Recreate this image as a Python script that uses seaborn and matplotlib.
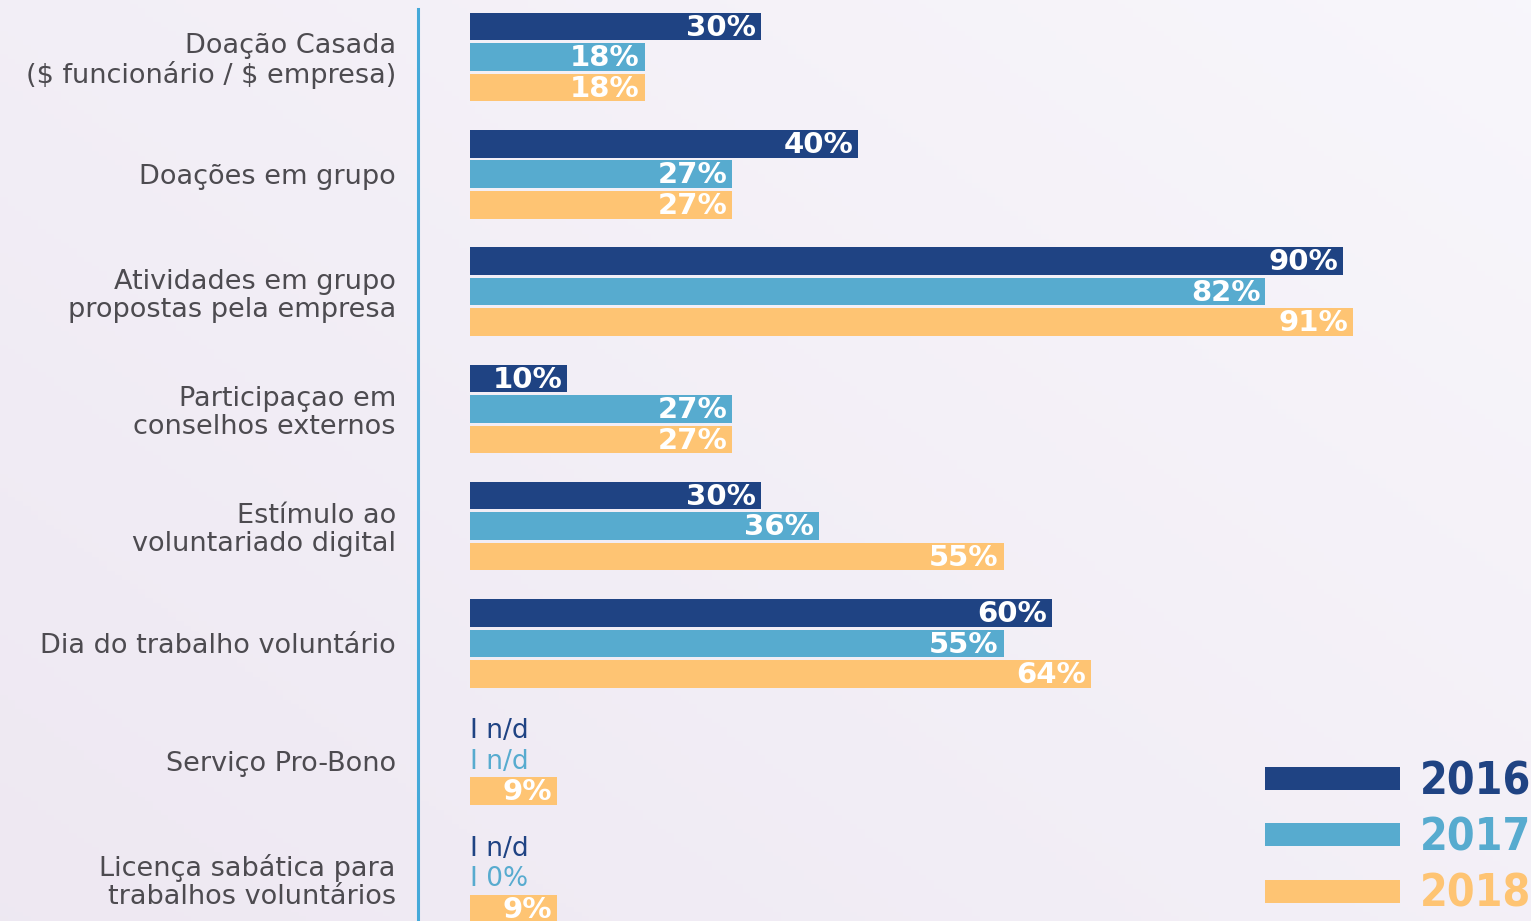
import numpy as np
import pandas as pd
import matplotlib
matplotlib.use("Agg")
import matplotlib.pyplot as plt
import seaborn as sns

categories = [
    "Doação Casada\n(\\$ funcionário / \\$ empresa)",
    "Doações em grupo",
    "Atividades em grupo\npropostas pela empresa",
    "Participaçao em\nconselhos externos",
    "Estímulo ao\nvoluntariado digital",
    "Dia do trabalho voluntário",
    "Serviço Pro-Bono",
    "Licença sabática para\ntrabalhos voluntários",
]
years = ["2016", "2017", "2018"]
v2016 = [30, 40, 90, 10, 30, 60, np.nan, np.nan]
v2017 = [18, 27, 82, 27, 36, 55, np.nan, 0]
v2018 = [18, 27, 91, 27, 55, 64, 9, 9]
colors = ["#1f4383", "#57abcf", "#fec473"]

rows = []
for yr, vals in zip(years, [v2016, v2017, v2018]):
    for c, v in zip(categories, vals):
        rows.append({"cat": c, "year": yr, "val": v})
df = pd.DataFrame(rows)

sns.set_theme(style="white")
plt.rcParams["font.family"] = ["DejaVu Sans"]

fig = plt.figure(figsize=(15.31, 9.21), dpi=100)
# background gradient
bg = fig.add_axes([0, 0, 1, 1], zorder=-10)
gx, gy = np.meshgrid(np.linspace(0, 1, 200), np.linspace(0, 1, 200))
t = np.clip(0.55 * gx + 0.45 * (1 - gy), 0, 1)
c0 = np.array([0.933, 0.910, 0.949])
c1 = np.array([0.972, 0.965, 0.985])
img = c0[None, None, :] * (1 - t[..., None]) + c1[None, None, :] * t[..., None]
bg.imshow(img, aspect="auto", extent=[0, 1, 0, 1], origin="upper")
bg.axis("off")

ax = fig.add_axes([418 / 1531, 0, 1 - 418 / 1531, 1])
ax.patch.set_alpha(0)
sns.barplot(data=df, y="cat", x="val", hue="year", palette=colors,
            orient="h", width=0.78, ax=ax, saturation=1, legend=True,
            edgecolor="none")

px = 9.7  # pixels per percent
ax.set_xlim(-52 / px, (1531 - 470) / px)
spacing = (878 - 57) / 7
ax.set_ylim(7 + (921 - 878) / spacing, -57 / spacing)

# shrink bars slightly to create gaps
for p in ax.patches:
    h = p.get_height()
    if h > 0 and h < 1:
        p.set_y(p.get_y() + 0.012)
        p.set_height(h - 0.024)

n = len(years)
bw = 0.78 / n
for i, (yr, vals) in enumerate(zip(years, [v2016, v2017, v2018])):
    for j, v in enumerate(vals):
        yc = j - 0.39 + bw * (i + 0.5)
        if np.isnan(v) or v == 0:
            lab = "n/d" if np.isnan(v) else "0%"
            ax.text(0, yc + 0.01, "I " + lab, color=colors[i], fontsize=19,
                    va="center", ha="left", fontweight="medium")
        else:
            ax.text(v - 0.5, yc + 0.01, f"{v:.0f}%", color="white", fontsize=21,
                    va="center", ha="right", fontweight="semibold")

ax.set_xlabel("")
ax.set_ylabel("")
ax.set_xticks([])
ax.tick_params(axis="y", length=0, pad=16, labelsize=19.5, labelcolor="#4d4b50")
for lbl in ax.get_yticklabels():
    lbl.set_linespacing(1.1)
for s in ["top", "right", "bottom"]:
    ax.spines[s].set_visible(False)
ax.spines["left"].set_color("#45a9d9")
ax.spines["left"].set_linewidth(2.2)
ax.spines["left"].set_bounds(7.5, -0.41)

handles, labels = ax.get_legend_handles_labels()
ax.get_legend().remove()
leg = fig.legend(handles, labels, loc="upper left",
                 bbox_to_anchor=(0.800, 0.218), frameon=False,
                 labelcolor=colors, handlelength=3.04, handleheight=0.42,
                 handletextpad=0.45, labelspacing=0.30,
                 prop={"family": "DejaVu Sans", "stretch": "condensed",
                       "weight": "heavy", "size": 32})

fig.savefig("out.png", dpi=100)
